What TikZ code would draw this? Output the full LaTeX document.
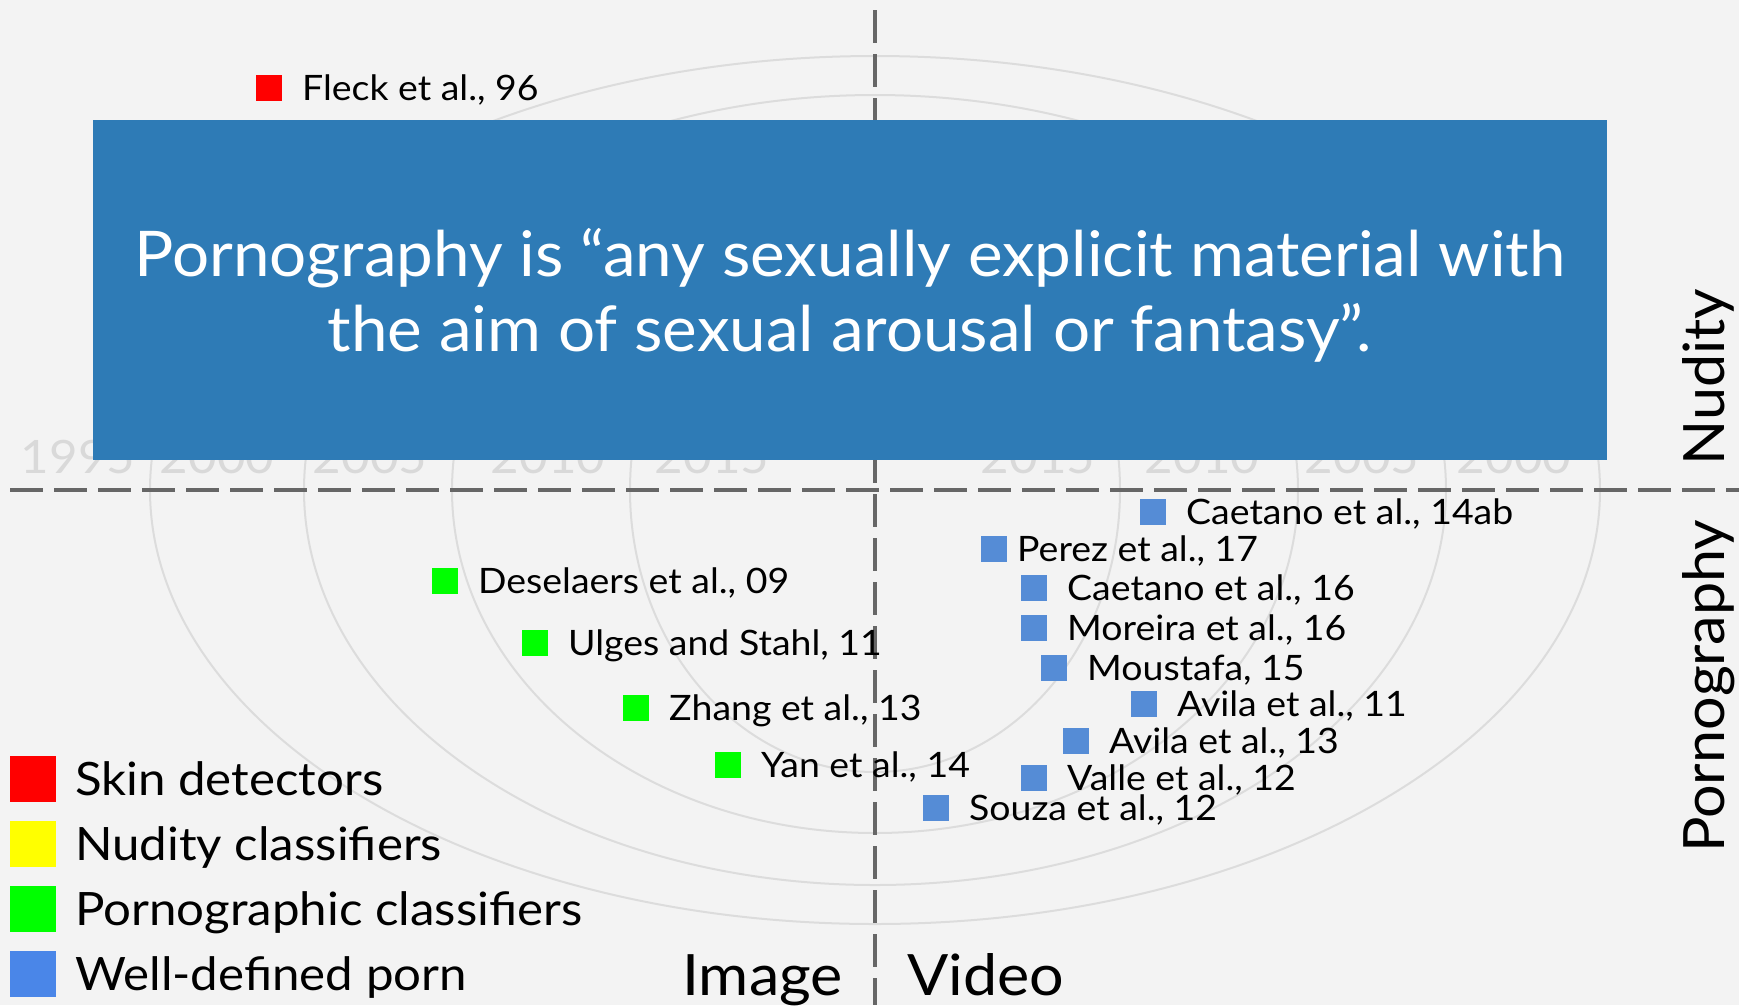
\documentclass[tikz,border=0pt]{standalone}
\usepackage{fontspec}
\setmainfont{Lato}[FakeStretch=1.07]
\newfontfamily\bannerfont{Lato}[FakeStretch=1.04]
\newfontfamily\sidefont{Lato}[FakeStretch=1.04]
\definecolor{bg}{HTML}{F3F3F3}
\definecolor{ring}{HTML}{DCDCDC}
\definecolor{yeartxt}{HTML}{D9D9D9}
\definecolor{axis}{HTML}{666666}
\definecolor{defblue}{HTML}{2E7BB6}
\definecolor{skin}{HTML}{FF0000}
\definecolor{nude}{HTML}{FFFF00}
\definecolor{porncls}{HTML}{00FF00}
\definecolor{welldef}{HTML}{4A86E8}
\definecolor{welldefpt}{HTML}{558CD6}
\begin{document}
\begin{tikzpicture}[x=1pt,y=-1pt,
  ringline/.style={draw=ring, line width=2pt},
  axisline/.style={draw=axis, line width=4pt, dash pattern=on 33pt off 11pt},
  year/.style={font=\fontsize{46}{50}\selectfont, text=yeartxt, anchor=base, inner sep=0pt},
  mk/.style={minimum size=26pt, inner sep=0pt, outer sep=0pt},
  lbl/.style={font=\fontsize{35}{42}\selectfont, anchor=west, inner sep=0pt, text height=25pt, text depth=0pt},
  legbox/.style={minimum size=46pt, inner sep=0pt, outer sep=0pt},
  legtxt/.style={font=\fontsize{46}{52}\selectfont, anchor=west, inner sep=0pt, text height=33pt, text depth=0pt},
  axtitle/.style={font=\fontsize{57}{60}\selectfont, inner sep=0pt},
  sidetitle/.style={font=\sidefont\fontsize{57}{60}\selectfont, inner sep=0pt, rotate=90, anchor=base west},
]
% canvas
\fill[bg] (0,0) rectangle (1739,1005);
\useasboundingbox (0,0) rectangle (1739,1005);

% year rings around the centre of the chart
\coordinate (ctr) at (875,490);
\draw[ringline] (ctr) ellipse [x radius=725pt, y radius=434pt];
\draw[ringline] (ctr) ellipse [x radius=571pt, y radius=395pt];
\draw[ringline] (ctr) ellipse [x radius=423pt, y radius=343pt];
\draw[ringline] (ctr) ellipse [x radius=245pt, y radius=282pt];

% year labels between the rings
\node[year] (yl1995) at (78,473) {1995};
\node[year] (yl2000) at (217,473) {2000};
\node[year] (yl2005) at (370,473) {2005};
\node[year] (yl2010) at (548,473) {2010};
\node[year] (yl2015) at (712,473) {2015};
\node[year] (yr2015) at (1038,473) {2015};
\node[year] (yr2010) at (1202,473) {2010};
\node[year] (yr2005) at (1362,473) {2005};
\node[year] (yr2000) at (1514,473) {2000};

% quadrant axes
\coordinate (hl) at (10,490);
\coordinate (hr) at (1739,490);
\coordinate (vt) at (875,10);
\coordinate (vb) at (875,1005);
\draw[axisline] (hl) -- (hr);
\draw[axisline] (vt) -- (vb);

% definition banner
\fill[defblue] (93,120) rectangle (1607,460);
\node[font=\bannerfont\fontsize{63}{75}\selectfont, text=white, align=center, inner sep=0pt] (deftext) at (850,295.5)
  {Pornography is “any sexually explicit material with\\the aim of sexual arousal or fantasy”.};

% skin detectors
\node[mk, fill=skin] (p1) at (269,88) {};
\node[lbl] (t1) at ([xshift=20pt]p1.east) {Fleck et al., 96};

% pornographic classifiers (image)
\node[mk, fill=porncls] (p2) at (445,581) {};
\node[lbl] (t2) at ([xshift=20pt]p2.east) {Deselaers et al., 09};
\node[mk, fill=porncls] (p3) at (535,643) {};
\node[lbl] (t3) at ([xshift=20pt]p3.east) {Ulges and Stahl, 11};
\node[mk, fill=porncls] (p4) at (636,708) {};
\node[lbl] (t4) at ([xshift=20pt]p4.east) {Zhang et al., 13};
\node[mk, fill=porncls] (p5) at (728,765) {};
\node[lbl] (t5) at ([xshift=20pt]p5.east) {Yan et al., 14};

% well-defined porn (video)
\node[mk, fill=welldefpt] (p6) at (1153,512) {};
\node[lbl] (t6) at ([xshift=20pt]p6.east) {Caetano et al., 14ab};
\node[mk, fill=welldefpt] (p7) at (994,549) {};
\node[lbl] (t7) at ([xshift=10pt]p7.east) {Perez et al., 17};
\node[mk, fill=welldefpt] (p8) at (1034,588) {};
\node[lbl] (t8) at ([xshift=20pt]p8.east) {Caetano et al., 16};
\node[mk, fill=welldefpt] (p9) at (1034,628) {};
\node[lbl] (t9) at ([xshift=20pt]p9.east) {Moreira et al., 16};
\node[mk, fill=welldefpt] (p10) at (1054,668) {};
\node[lbl] (t10) at ([xshift=20pt]p10.east) {Moustafa, 15};
\node[mk, fill=welldefpt] (p11) at (1144,704) {};
\node[lbl] (t11) at ([xshift=20pt]p11.east) {Avila et al., 11};
\node[mk, fill=welldefpt] (p12) at (1076,741) {};
\node[lbl] (t12) at ([xshift=20pt]p12.east) {Avila et al., 13};
\node[mk, fill=welldefpt] (p13) at (1034,778) {};
\node[lbl] (t13) at ([xshift=20pt]p13.east) {Valle et al., 12};
\node[mk, fill=welldefpt] (p14) at (936,808) {};
\node[lbl] (t14) at ([xshift=20pt]p14.east) {Souza et al., 12};

% legend
\node[legbox, fill=skin] (k1) at (33,778.5) {};
\node[legtxt] (kt1) at ([xshift=19pt]k1.east) {Skin detectors};
\node[legbox, fill=nude] (k2) at (33,843.5) {};
\node[legtxt] (kt2) at ([xshift=19pt]k2.east) {Nudity classifiers};
\node[legbox, fill=porncls] (k3) at (33,908.5) {};
\node[legtxt] (kt3) at ([xshift=19pt]k3.east) {Pornographic classifiers};
\node[legbox, fill=welldef] (k4) at (33,973.5) {};
\node[legtxt] (kt4) at ([xshift=19pt]k4.east) {Well-defined porn};

% axis titles
\node[axtitle, anchor=base east] (ximg) at (843,995) {Image};
\node[axtitle, anchor=base west] (xvid) at (907,995) {Video};
\node[sidetitle] (ynud) at (1724,466) {Nudity};
\node[sidetitle] (ypor) at (1724,853) {Pornography};
\end{tikzpicture}
\end{document}
